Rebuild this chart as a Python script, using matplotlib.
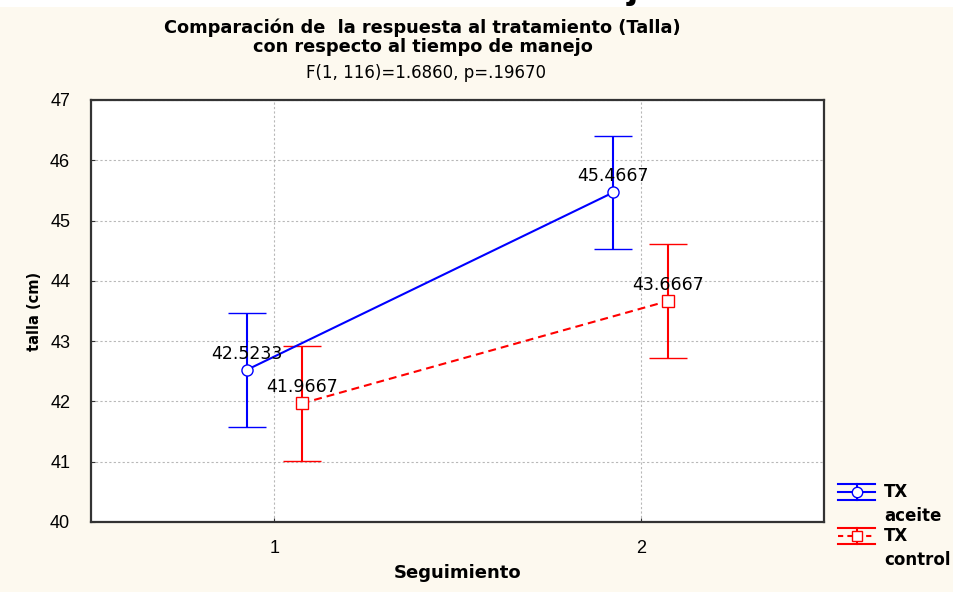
import matplotlib
matplotlib.use('Agg')
import matplotlib.pyplot as plt
import matplotlib.patches as mpatches
from matplotlib.lines import Line2D

plt.rcParams['font.family'] = ['Liberation Sans', 'DejaVu Sans']

# data
seguimiento = [1, 2]
xtick_labels = ['1', '2']
aceite_mean = [42.5233, 45.4667]
aceite_err = [0.95, 0.94]
control_mean = [41.9667, 43.6667]
control_err = [0.95, 0.94]
series_labels = ['TX\naceite', 'TX\ncontrol']
offset = 0.075

W, H = 954, 592
bg = '#fdf9ef'
blue = '#0000ff'
red = '#ff0000'
dash = (0, (3.8, 2.4))

fig = plt.figure(figsize=(W / 100, H / 100), dpi=100, facecolor=bg)
ax = fig.add_axes([91 / W, 1 - 522 / H, 733 / W, 422 / H])
ax.set_facecolor('white')

# white strip at the very top with the cut-off glyph from a larger heading
fig.patches.append(mpatches.Rectangle((0, 1 - 7 / H), 1, 7 / H, transform=fig.transFigure,
                                      facecolor='white', edgecolor='none', zorder=0))
fig.text(0.663, 1 + 14 / H, 'j', fontsize=30, fontweight='bold', ha='center', va='center')

xa = [x - offset for x in seguimiento]
xc = [x + offset for x in seguimiento]

ax.errorbar(xa, aceite_mean, yerr=aceite_err, color=blue, lw=1.5, capsize=13.5,
            capthick=1.5, marker='o', ms=8, mfc='white', mec=blue, mew=1.0, zorder=3)
ax.errorbar(xc, control_mean, yerr=control_err, color=red, lw=1.5, capsize=13.5,
            capthick=1.5, marker='s', ms=8, mfc='white', mec=red, mew=1.0,
            ls=dash, zorder=3)

lbl_font = dict(family='DejaVu Sans', fontsize=12.5)
for x, y in zip(xa, aceite_mean):
    ax.annotate(f'{y:.4f}', (x, y), xytext=(0, 5), textcoords='offset points',
                ha='center', va='bottom', zorder=4, **lbl_font)
for x, y in zip(xc, control_mean):
    ax.annotate(f'{y:.4f}', (x, y), xytext=(0, 5), textcoords='offset points',
                ha='center', va='bottom', zorder=4, **lbl_font)

ax.set_xlim(0.5, 2.5)
ax.set_ylim(40, 47)
ax.set_xticks(seguimiento)
ax.set_xticklabels(xtick_labels)
ax.set_yticks(range(40, 48))
ax.tick_params(axis='both', labelsize=13, direction='in', length=3, color='#333333')
ax.tick_params(axis='x', pad=13)
ax.tick_params(axis='y', pad=15)
ax.grid(True, color='#b8b8b8', ls=(0, (2, 2)), lw=0.8)
ax.set_axisbelow(True)
for s in ax.spines.values():
    s.set_color('#333333')
    s.set_linewidth(1.6)

bold = dict(family='DejaVu Sans', fontweight='bold')
ax.set_ylabel('talla (cm)', fontsize=10.5, labelpad=6, **bold)
ax.set_xlabel('Seguimiento', fontsize=13, labelpad=5, **bold)

fig.text(0.443, 1 - 28 / H, 'Comparación de  la respuesta al tratamiento (Talla)',
         ha='center', va='center', fontsize=12.8, **bold)
fig.text(0.443, 1 - 47.5 / H, 'con respecto al tiempo de manejo',
         ha='center', va='center', fontsize=12.8, **bold)
fig.text(0.447, 1 - 73 / H, 'F(1, 116)=1.6860, p=.19670',
         ha='center', va='center', family='DejaVu Sans', fontsize=12)


# legend drawn by hand so that the handle sits beside the first line of each label
def px(x, y):
    return x / W, 1 - y / H


def legend_entry(y, color, marker, ls, label):
    x0, x1, xm = 838, 875, 857
    for yy in (y - 8, y + 8):
        fig.add_artist(Line2D(*zip(px(x0, yy), px(x1, yy)), color=color, lw=1.5))
    fig.add_artist(Line2D(*zip(px(xm, y - 8), px(xm, y + 8)), color=color, lw=1.5))
    fig.add_artist(Line2D(*zip(px(x0, y), px(x1, y)), color=color, lw=1.5, ls=ls))
    fig.add_artist(Line2D(*zip(px(xm, y)), color=color, marker=marker, ms=7.5,
                          mfc='white', mec=color, mew=1.0, ls='none'))
    fig.text(*px(884, y - 9), label, ha='left', va='top', fontsize=12,
             linespacing=1.4, **bold)


legend_entry(492, blue, 'o', '-', series_labels[0])
legend_entry(536, red, 's', (0, (2.5, 2.0)), series_labels[1])

fig.savefig('out.png', dpi=100, facecolor=bg)
